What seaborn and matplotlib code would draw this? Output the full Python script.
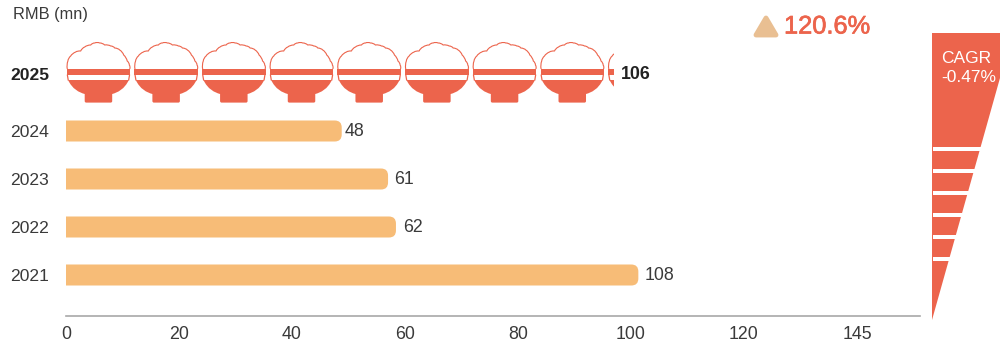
import numpy as np
import pandas as pd
import seaborn as sns
import matplotlib
matplotlib.use("Agg")
import matplotlib.pyplot as plt
import matplotlib.patheffects as pe
from matplotlib.path import Path
from matplotlib.patches import PathPatch, Polygon, Rectangle
from matplotlib.transforms import Affine2D

# ---- data ----
years = ["2025", "2024", "2023", "2022", "2021"]
value_labels = ["106", "48", "61", "62", "108"]      # printed values
drawn_lengths = [97.0, 48.8, 57.0, 58.4, 101.3]      # lengths
label_gaps = [7, 3, 6, 7, 6]
tick_values = [0, 20, 40, 60, 80, 100, 120, 140]
tick_labels = ["0", "20", "40", "60", "80", "100", "120", "145"]
growth_text = "120.6%"
cagr_text = "CAGR\n-0.47%"
unit_title = "RMB (mn)"
units_per_bowl = 11.98

RED = "#EC644C"
BAR = "#F7BC77"
TRI = "#E9BF92"
TXT = "#3a3a3a"

sns.set_theme(style="white")
plt.rcParams["font.family"] = ["Liberation Sans", "DejaVu Sans"]

W, H = 1000, 342
fig = plt.figure(figsize=(W / 100, H / 100), dpi=100, facecolor="white")
px = Affine2D().scale(1 / W, -1 / H).translate(0, 1) + fig.transFigure

L, R, T, B = 66, 920, 20, 316
ax = fig.add_axes([L / W, 1 - B / H, (R - L) / W, (B - T) / H])

df = pd.DataFrame({"year": years, "length": drawn_lengths})
df.loc[0, "length"] = np.nan  # 2025 is drawn as bowls
sns.barplot(data=df, y="year", x="length", order=years, color=BAR, saturation=1,
            width=21 / 48, ax=ax, orient="h", errorbar=None)

px_per_unit = 5.65
ax.set_xlim(0, (R - L) / px_per_unit)
row0_y, row_step = 83, 48
ax.set_ylim((B - row0_y) / row_step, (T - row0_y) / row_step)
ax.set_xlabel("")
ax.set_ylabel("")
sns.despine(ax=ax, left=True, top=True, right=True)
ax.spines["bottom"].set_color("#a8a8a8")
ax.spines["bottom"].set_linewidth(1.2)
ax.set_xticks(tick_values)
ax.set_xticklabels(tick_labels, fontsize=12.8, color=TXT)
ax.tick_params(axis="x", length=0, pad=7)
ax.set_yticks([-0.19, 1, 2, 3, 4])
ax.set_yticklabels(years, fontsize=12.6, color=TXT)
ax.get_yticklabels()[0].set_fontweight("bold")
ax.get_yticklabels()[0].set_color("#222222")
ax.tick_params(axis="y", length=0, pad=12)


def to_px(x, y):
    dx, dy = ax.transData.transform((x, y))
    return px.inverted().transform((dx, dy))


# rounded right ends on the bars
for bar in list(ax.patches):
    if not np.isfinite(bar.get_width()) or bar.get_width() == 0:
        bar.remove()
        continue
    x0, y0 = to_px(bar.get_x(), bar.get_y())
    x1, y1 = to_px(bar.get_x() + bar.get_width(), bar.get_y() + bar.get_height())
    top, bot = min(y0, y1), max(y0, y1)
    r = 7
    verts = [(x0, top), (x1 - r, top), (x1, top), (x1, top + r), (x1, bot - r),
             (x1, bot), (x1 - r, bot), (x0, bot), (x0, top)]
    codes = [Path.MOVETO, Path.LINETO, Path.CURVE3, Path.CURVE3, Path.LINETO,
             Path.CURVE3, Path.CURVE3, Path.LINETO, Path.CLOSEPOLY]
    bar.remove()
    fig.add_artist(PathPatch(Path(verts, codes), fc=BAR, ec="none", transform=px))

# value labels
for i, (txt, ln, gap) in enumerate(zip(value_labels, drawn_lengths, label_gaps)):
    xp, yp = to_px(ln, i if i else -0.19)
    fig.text(xp + gap, yp + 0.8, txt, transform=px, ha="left", va="center", fontsize=12.8,
             color="#222222" if i == 0 else TXT, fontweight="bold" if i == 0 else "normal")

# bowl glyph, in pixels relative to the bowl's left edge and rim top
rice = [(0.6, 0), (1.2, -8), (4, -13), (9, -17), (14, -18), (18, -22), (24, -24), (28, -26),
        (33, -26), (38, -24), (44, -23), (48, -21), (53, -19), (57, -14), (60.5, -8), (62.6, -4), (63, 0)]


def scallop(points, amp=1.2):
    v, c = [points[0]], [Path.MOVETO]
    cx, cy = 32, 0
    for a, b in zip(points[:-1], points[1:]):
        m = np.array([(a[0] + b[0]) / 2, (a[1] + b[1]) / 2])
        n = m - np.array([cx, cy])
        n = n / np.linalg.norm(n)
        v += [tuple(m + n * amp), b]
        c += [Path.CURVE3, Path.CURVE3]
    return v, c


def bowl_paths(x, y, clip):
    artists = []
    shift = Affine2D().translate(x, y) + px
    rv, rc = scallop(rice)
    artists.append(PathPatch(Path(rv, rc), fc="none", ec=RED, lw=0.8, transform=shift))
    artists.append(Rectangle((0, 0), 63.5, 5.6, fc=RED, ec="none", transform=shift))
    # thin rim outline around the white band
    artists.append(PathPatch(Path([(0.6, 5.6), (1.6, 11.5)]), fc="none", ec=RED, lw=0.9, transform=shift))
    artists.append(PathPatch(Path([(62.9, 5.6), (61.9, 11.5)]), fc="none", ec=RED, lw=0.9, transform=shift))
    # body and foot
    body = [(1.4, 11), (62.1, 11),
            (58, 20), (51, 23.5), (45.5, 25),
            (45.5, 32), (45.5, 33.6), (44, 33.6),
            (19.5, 33.6), (18, 33.6), (18, 32),
            (18, 25), (12.5, 23.5), (5.5, 20), (1.4, 11), (1.4, 11)]
    codes = [Path.MOVETO, Path.LINETO,
             Path.CURVE4, Path.CURVE4, Path.CURVE4,
             Path.LINETO, Path.CURVE3, Path.CURVE3,
             Path.LINETO, Path.CURVE3, Path.CURVE3,
             Path.LINETO, Path.CURVE4, Path.CURVE4, Path.CURVE4, Path.CLOSEPOLY]
    artists.append(PathPatch(Path(body, codes), fc=RED, ec="none", transform=shift))
    for a in artists:
        fig.add_artist(a)
        a.set_clip_path(clip)


clip_end = to_px(drawn_lengths[0], 0)[0]
clip_rect = Rectangle((0, 0), clip_end, H, transform=px, fc="none", ec="none")
fig.add_artist(clip_rect)
n_bowls = int(np.ceil(drawn_lengths[0] / units_per_bowl))
for k in range(n_bowls):
    xleft = to_px(k * units_per_bowl, 0)[0] + 0.7
    bowl_paths(xleft, 69, clip_rect)

# wedge on the right
wedge = Polygon([(932, 33), (1000, 33), (1000, 78), (932, 320)], closed=True, fc=RED, ec="none", transform=px)
fig.add_artist(wedge)
for ys in [147, 169, 191, 213, 235, 257]:
    xr = 932 + (320 - ys) * 0.2812
    fig.add_artist(Rectangle((933, ys), xr - 933 + 1, 4, fc="white", ec="none", transform=px))
fig.text(941, 68, cagr_text, transform=px, ha="left", va="center", fontsize=12.5, color="white",
         linespacing=1.32)

# headline
fig.add_artist(Polygon([(756, 35), (766, 18), (776, 35)], closed=True, fc=TRI, ec=TRI, lw=3.5,
                       joinstyle="round", transform=px))
fig.text(784, 26.5, growth_text, transform=px, ha="left", va="center", fontsize=18.3, color=RED,
         path_effects=[pe.withStroke(linewidth=0.5, foreground=RED)])
fig.text(13, 15, unit_title, transform=px, ha="left", va="center", fontsize=11.8, color=TXT)

fig.savefig("out.png", dpi=100)
